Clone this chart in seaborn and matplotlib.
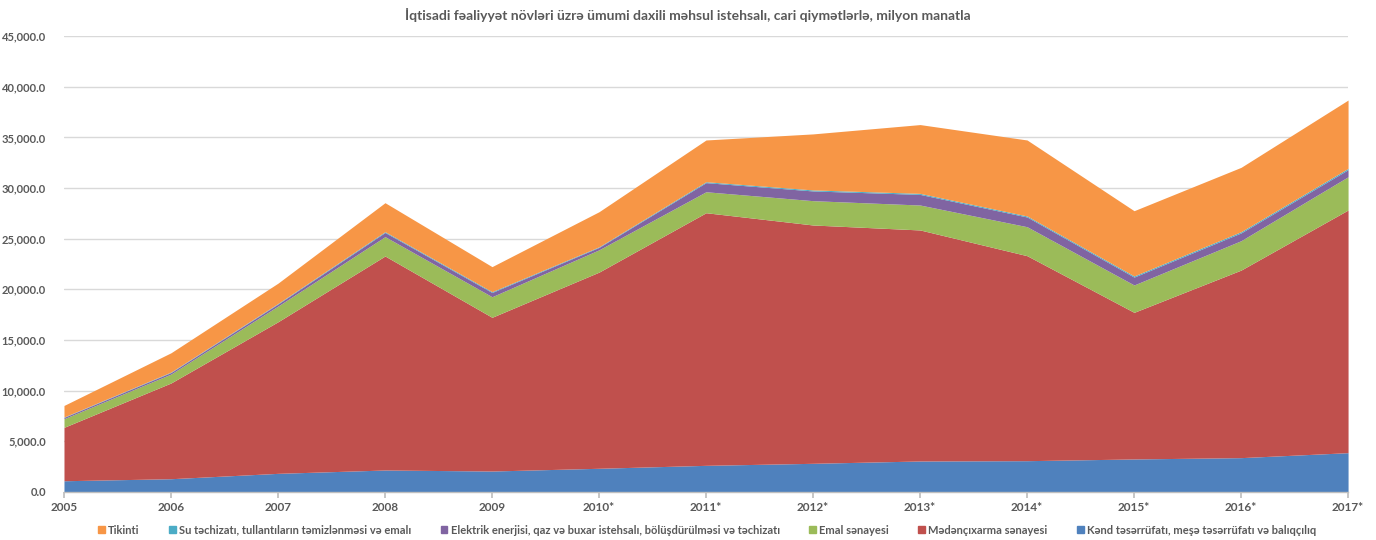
#!/usr/bin/env python3

import seaborn as sns
import numpy as np
import matplotlib.pyplot as plt
from matplotlib.patches import Patch
from matplotlib.ticker import FuncFormatter

years = ["2005", "2006", "2007", "2008", "2009", "2010*", "2011*", "2012*",
         "2013*", "2014*", "2015*", "2016*", "2017*"]

# stacked from bottom to top
kend = [1110, 1310, 1840, 2170, 2070, 2340, 2630, 2830, 3060, 3090, 3260, 3390, 3880]
meden = [5270, 9450, 14960, 21120, 15170, 19360, 24930, 23520, 22800, 20230, 14470, 18510, 23950]
emal = [850, 880, 1550, 1910, 2030, 2200, 2070, 2400, 2460, 2860, 2700, 2900, 3280]
elektrik = [130, 150, 200, 410, 420, 240, 900, 960, 1050, 960, 780, 770, 700]
su = [40, 50, 60, 80, 80, 60, 90, 100, 100, 100, 110, 120, 130]
tikinti = [1140, 1900, 2000, 2860, 2470, 3460, 4120, 5530, 6790, 7500, 6440, 6350, 6740]

names = [
    "Kənd təsərrüfatı, meşə təsərrüfatı və balıqçılıq",
    "Mədənçıxarma sənayesi",
    "Emal sənayesi",
    "Elektrik enerjisi, qaz və buxar istehsalı, bölüşdürülməsi və təchizatı",
    "Su təchizatı, tullantıların təmizlənməsi və emalı",
    "Tikinti",
]
colors = ["#4F81BD", "#C0504D", "#9BBB59", "#8064A2", "#4BACC6", "#F79646"]

sns.set_theme(style="whitegrid")
plt.rcParams['font.family'] = ['Lato', 'DejaVu Sans']
text_color = "#595959"

fig = plt.figure(figsize=(13.76, 5.4), dpi=100)
ax = fig.add_axes([0.0465, 0.0889, 0.9332, 0.8444])

x = np.arange(len(years))
series = [kend, meden, emal, elektrik, su, tikinti]
ax.stackplot(x, *[np.array(s) for s in series], colors=colors, linewidth=0)

ax.set_xlim(0, len(years) - 1)
ax.set_ylim(0, 45000)
ax.set_yticks(np.arange(0, 45001, 5000))
ax.yaxis.set_major_formatter(FuncFormatter(lambda v, p: "{:,.1f}".format(v)))
ax.set_xticks(x)
ax.set_xticklabels(years)
ax.grid(axis="y", color="#D9D9D9", linewidth=1)
ax.grid(axis="x", visible=False)
ax.set_axisbelow(True)
for side in ["left", "right", "top"]:
    ax.spines[side].set_visible(False)
ax.spines["bottom"].set_color("#BFBFBF")
ax.spines["bottom"].set_linewidth(1)
ax.tick_params(axis="x", bottom=True, length=4, color="#BFBFBF", pad=3)
ax.tick_params(axis="y", left=False, pad=7)
for lbl in ax.get_xticklabels() + ax.get_yticklabels():
    lbl.set_fontsize(8.5)
    lbl.set_fontweight("bold")
    lbl.set_color(text_color)
for lbl in ax.get_yticklabels():
    lbl.set_fontsize(8)

fig.text(0.5, 0.972, "İqtisadi fəaliyyət növləri üzrə ümumi daxili məhsul istehsalı, cari qiymətlərlə, milyon manatla",
         ha="center", va="center", fontsize=10, fontweight="bold", color=text_color)

handles = [Patch(color=c, label=n) for c, n in zip(colors, names)][::-1]
leg = fig.legend(handles=handles, loc="center", bbox_to_anchor=(0.514, 0.018), ncol=6,
                 frameon=False, handlelength=0.6, handleheight=0.6, handletextpad=0.3,
                 columnspacing=2.65, prop={"size": 8, "weight": "bold"})
for t in leg.get_texts():
    t.set_color(text_color)

fig.savefig("out.png", dpi=100)
